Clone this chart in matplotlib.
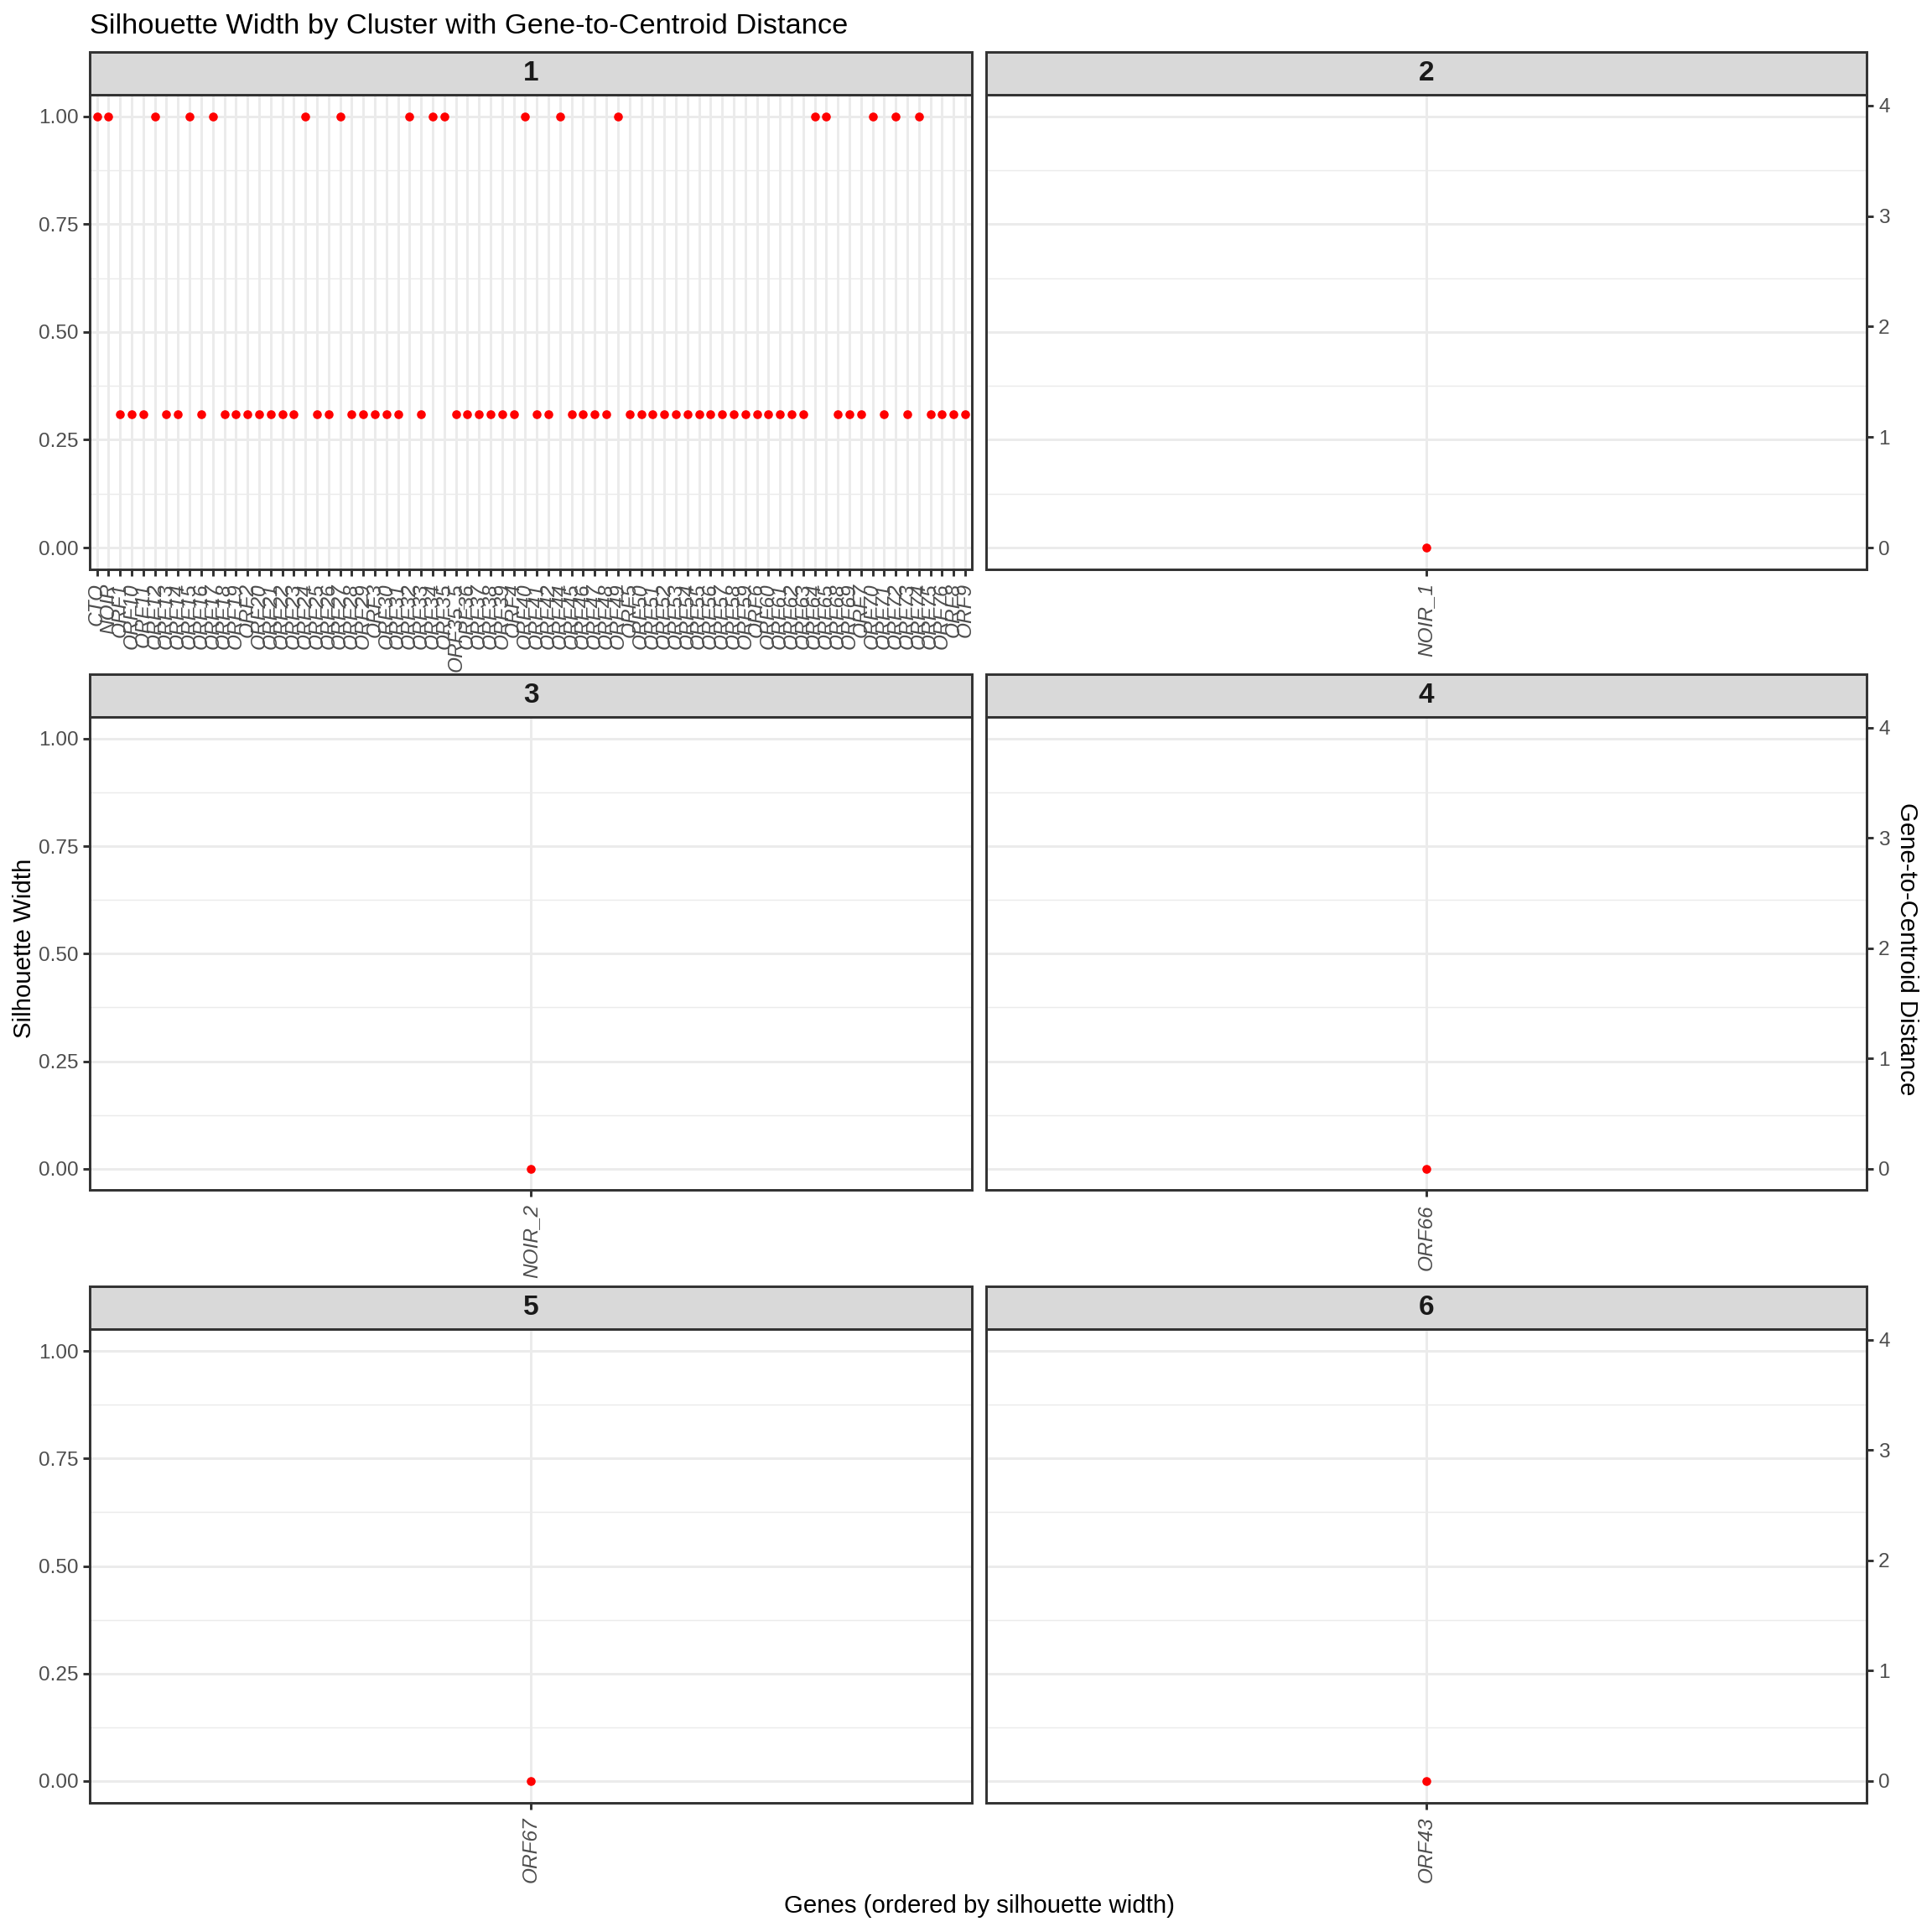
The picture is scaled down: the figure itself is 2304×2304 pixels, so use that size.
import matplotlib
matplotlib.use("Agg")
import matplotlib.pyplot as plt
from matplotlib.patches import Rectangle

plt.rcParams['font.family'] = ['Liberation Sans', 'DejaVu Sans']

# ---- data ----
cluster_ids = ["1", "2", "3", "4", "5", "6"]

cluster1_genes = [
    "CTO", "NOIR", "ORF1", "ORF10", "ORF11", "ORF12", "ORF13", "ORF14", "ORF15", "ORF16",
    "ORF17", "ORF18", "ORF19", "ORF2", "ORF20", "ORF21", "ORF22", "ORF23", "ORF24", "ORF25",
    "ORF26", "ORF27", "ORF28", "ORF29", "ORF3", "ORF30", "ORF31", "ORF32", "ORF33", "ORF34",
    "ORF35", "ORF35_5", "ORF36", "ORF37", "ORF38", "ORF39", "ORF4", "ORF40", "ORF41", "ORF42",
    "ORF44", "ORF45", "ORF46", "ORF47", "ORF48", "ORF49", "ORF5", "ORF50", "ORF51", "ORF52",
    "ORF53", "ORF54", "ORF55", "ORF56", "ORF57", "ORF58", "ORF59", "ORF6", "ORF60", "ORF61",
    "ORF62", "ORF63", "ORF64", "ORF65", "ORF68", "ORF69", "ORF7", "ORF70", "ORF71", "ORF72",
    "ORF73", "ORF74", "ORF75", "ORF76", "ORF8", "ORF9",
]
cluster1_sil = [
    1.00, 1.00, 0.31, 0.31, 0.31, 1.00, 0.31, 0.31, 1.00, 0.31,
    1.00, 0.31, 0.31, 0.31, 0.31, 0.31, 0.31, 0.31, 1.00, 0.31,
    0.31, 1.00, 0.31, 0.31, 0.31, 0.31, 0.31, 1.00, 0.31, 1.00,
    1.00, 0.31, 0.31, 0.31, 0.31, 0.31, 0.31, 1.00, 0.31, 0.31,
    1.00, 0.31, 0.31, 0.31, 0.31, 1.00, 0.31, 0.31, 0.31, 0.31,
    0.31, 0.31, 0.31, 0.31, 0.31, 0.31, 0.31, 0.31, 0.31, 0.31,
    0.31, 0.31, 1.00, 1.00, 0.31, 0.31, 0.31, 1.00, 0.31, 1.00,
    0.31, 1.00, 0.31, 0.31, 0.31, 0.31,
]
cluster2_genes = ["NOIR_1"]
cluster2_sil = [0.0]
cluster3_genes = ["NOIR_2"]
cluster3_sil = [0.0]
cluster4_genes = ["ORF66"]
cluster4_sil = [0.0]
cluster5_genes = ["ORF67"]
cluster5_sil = [0.0]
cluster6_genes = ["ORF43"]
cluster6_sil = [0.0]

genes_by_cluster = [cluster1_genes, cluster2_genes, cluster3_genes,
                    cluster4_genes, cluster5_genes, cluster6_genes]
sil_by_cluster = [cluster1_sil, cluster2_sil, cluster3_sil,
                  cluster4_sil, cluster5_sil, cluster6_sil]

y_ticks = [0.0, 0.25, 0.5, 0.75, 1.0]
y_minor = [0.125, 0.375, 0.625, 0.875]
dist_scale = 3.9  # secondary axis factor
dist_ticks = [0, 1, 2, 3, 4]

# ---- layout ----
fig = plt.figure(figsize=(11.52, 11.52), dpi=200)

col_x = [(0.0466, 0.5032), (0.5102, 0.9662)]
row_y = [(0.7054, 0.9509), (0.3839, 0.6288), (0.0670, 0.3119)]
strip_h_px = 35.0

grey20 = '#333333'
grey30 = '#4D4D4D'
grid_col = '#EBEBEB'

for i, cid in enumerate(cluster_ids):
    r, c = divmod(i, 2)
    x0, x1 = col_x[c]
    y0, y1 = row_y[r]
    ax = fig.add_axes([x0, y0, x1 - x0, y1 - y0])
    genes = genes_by_cluster[i]
    sil = sil_by_cluster[i]
    xs = list(range(len(genes)))

    ax.set_xlim(-0.6, len(genes) - 1 + 0.6)
    ax.set_ylim(-0.05, 1.05)

    # grid
    for gx in xs:
        ax.axvline(gx, color=grid_col, lw=1.07, zorder=0)
    for gy in y_ticks:
        ax.axhline(gy, color=grid_col, lw=1.07, zorder=0)
    for gy in y_minor:
        ax.axhline(gy, color=grid_col, lw=0.53, zorder=0)

    ax.plot(xs, sil, 'o', color='red', markersize=3.8, markeredgewidth=0, zorder=3)

    ax.set_xticks(xs)
    ax.set_xticklabels(genes, rotation=90, style='italic', color=grey30,
                       fontsize=8.8, ha='center', va='top')
    ax.set_yticks(y_ticks)
    ax.tick_params(axis='both', colors=grey20, length=3, width=1.07, labelcolor=grey30,
                   labelsize=8.8, pad=2)
    ax.tick_params(axis='x', pad=3)
    for s in ax.spines.values():
        s.set_color(grey20)
        s.set_linewidth(1.07)

    if c == 0:
        ax.set_yticklabels(['0.00', '0.25', '0.50', '0.75', '1.00'])
    else:
        ax.tick_params(axis='y', left=False, labelleft=False)
        sec = ax.secondary_yaxis('right', functions=(lambda v: v * dist_scale,
                                                     lambda v: v / dist_scale))
        sec.set_yticks(dist_ticks)
        sec.tick_params(colors=grey20, length=3, width=1.07, labelcolor=grey30,
                        labelsize=8.8, pad=2)
        sec.spines['right'].set_color(grey20)
        sec.spines['right'].set_linewidth(1.07)

    # facet strip
    panel_h_px = (y1 - y0) * 2304
    sh = strip_h_px * 1.4694 / panel_h_px
    ax.add_patch(Rectangle((0, 1), 1, sh, transform=ax.transAxes, clip_on=False,
                           facecolor='#D9D9D9', edgecolor=grey20, lw=1.07, zorder=5))
    ax.text(0.5, 1 + sh / 2, cid, transform=ax.transAxes, ha='center', va='center',
            fontsize=12, fontweight='bold', color='#1A1A1A', zorder=6)

fig.text(0.0466, 0.9865, "Silhouette Width by Cluster with Gene-to-Centroid Distance",
         ha='left', va='center', fontsize=12.4)
fig.text(0.507, 0.0134, "Genes (ordered by silhouette width)", ha='center', va='center',
         fontsize=10.6)
fig.text(0.0125, 0.509, "Silhouette Width", rotation=90, ha='center', va='center',
         fontsize=10.6)
fig.text(0.987, 0.509, "Gene-to-Centroid Distance", rotation=-90, ha='center', va='center',
         fontsize=10.6)

fig.savefig("out.png", dpi=200)
